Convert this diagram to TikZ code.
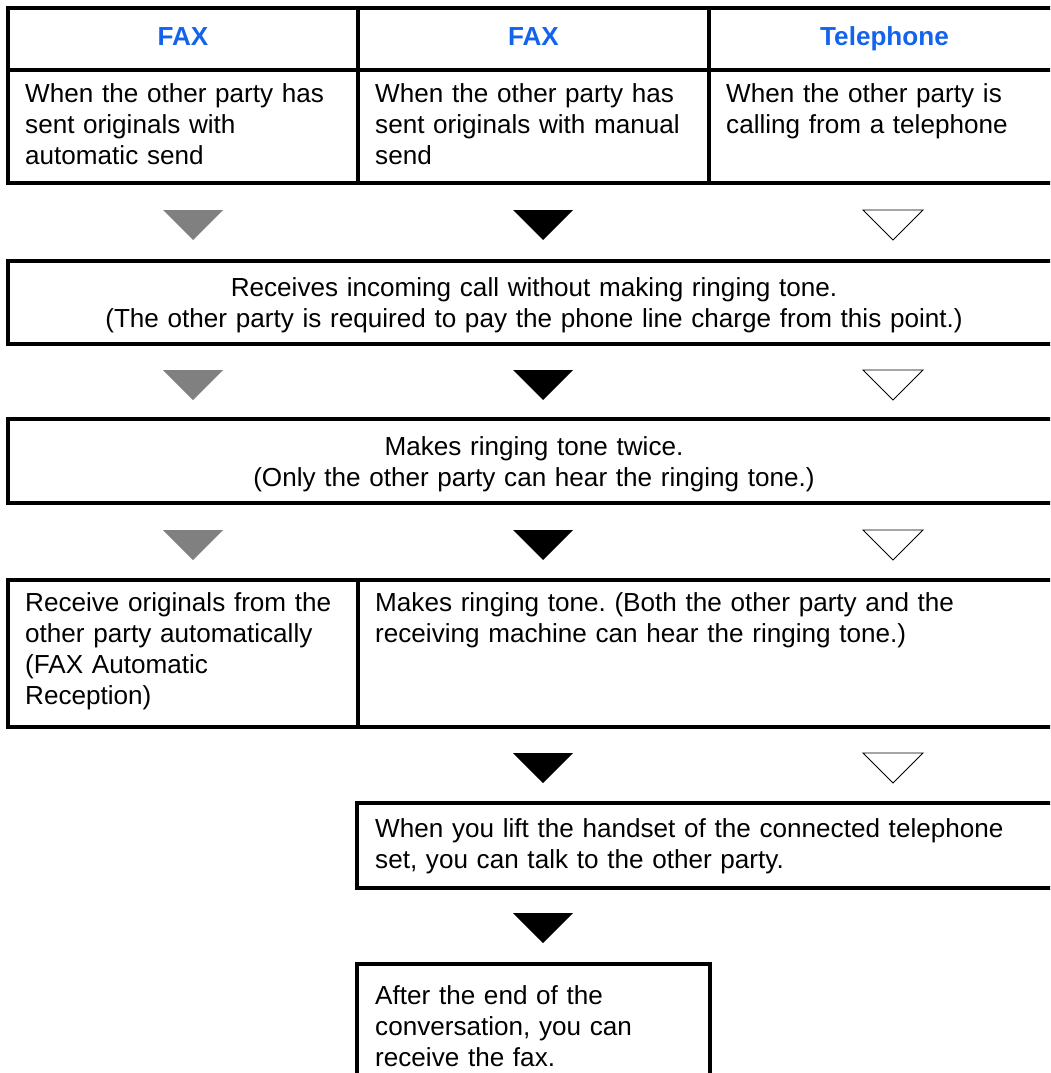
\documentclass[tikz,border=0pt]{standalone}
\usepackage{fontspec}
\setmainfont{Liberation Sans}
\usepackage{xcolor}
\definecolor{headblue}{RGB}{20, 100, 235}
\definecolor{arrowgray}{RGB}{128, 128, 128}
\usetikzlibrary{positioning, calc}
\frenchspacing

\tikzset{
  boxline/.style={line width=3.2pt, black},
  bodyfont/.style={font=\fontsize{26.1}{31.3}\selectfont},
  celltext/.style={bodyfont, anchor=base west, inner sep=0pt, text width=680pt, align=left},
  midtext/.style={bodyfont, anchor=base, inner sep=0pt, text width=1000pt, align=center},
  headtext/.style={anchor=base, inner sep=0pt, headblue, font=\fontsize{26.1}{31.3}\selectfont\bfseries},
  grayhead/.style={fill=arrowgray},
  blackhead/.style={fill=black},
  openhead/.style={draw=black, line width=0.9pt, fill=white},
}

\begin{document}
\begin{tikzpicture}[x=1pt, y=-1pt]
    \useasboundingbox (0,0) rectangle (1050,1073);
    \clip (0,0) rectangle (1050,1073);

    % table of callers
    \draw[boxline] (8,8) rectangle (1060,183);
    \draw[boxline] (8,70) -- (1060,70);
    \draw[boxline] (358,8) -- (358,183);
    \draw[boxline] (709,8) -- (709,183);
    \node[headtext] (hdfaxa) at (183,46) {FAX};
    \node[headtext] (hdfaxb) at (533.5,46) {FAX};
    \node[headtext] (hdtel) at (884.5,46) {Telephone};
    \node[celltext] (autosend) at (25,102) {When the other party has\\sent originals with\\automatic send};
    \node[celltext] (manualsend) at (375,102) {When the other party has\\sent originals with manual\\send};
    \node[celltext] (phonecall) at (726,102) {When the other party is\\calling from a telephone};

    % three columns of heads
    \foreach \ty in {210, 370, 530} {
        \path[grayhead] (163,\ty) -- ++(60,0) -- ++(-30,30) -- cycle;
        \path[blackhead] (513,\ty) -- ++(60,0) -- ++(-30,30) -- cycle;
        \draw[openhead] (863,\ty) -- ++(60,0) -- ++(-30,30) -- cycle;
    }

    \draw[boxline] (8,261) rectangle (1060,344);
    \node[midtext] (silentrx) at (534,296) {Receives incoming call without making ringing tone.\\(The other party is required to pay the phone line charge from this point.)};

    \draw[boxline] (8,419) rectangle (1060,503);
    \node[midtext] (ringtwice) at (534,455) {Makes ringing tone twice.\\(Only the other party can hear the ringing tone.)};

    \draw[boxline] (8,580) rectangle (1060,727);
    \draw[boxline] (358,580) -- (358,727);
    \node[celltext] (autorx) at (25,611) {Receive originals from the\\other party automatically\\(FAX Automatic\\Reception)};
    \node[celltext] (ringall) at (375,611) {Makes ringing tone. (Both the other party and the\\receiving machine can hear the ringing tone.)};

    % manual side only
    \path[blackhead] (513,753) -- ++(60,0) -- ++(-30,30) -- cycle;
    \draw[openhead] (863,753) -- ++(60,0) -- ++(-30,30) -- cycle;

    \draw[boxline] (357,803) rectangle (1060,888);
    \node[celltext] (handset) at (375,837) {When you lift the handset of the connected telephone\\set, you can talk to the other party.};

    \path[blackhead] (513,913) -- ++(60,0) -- ++(-30,30) -- cycle;

    \draw[boxline] (357,964) rectangle (710,1090);
    \node[celltext] (afterconv) at (375,1004) {After the end of the\\conversation, you can\\receive the fax.};
\end{tikzpicture}
\end{document}
